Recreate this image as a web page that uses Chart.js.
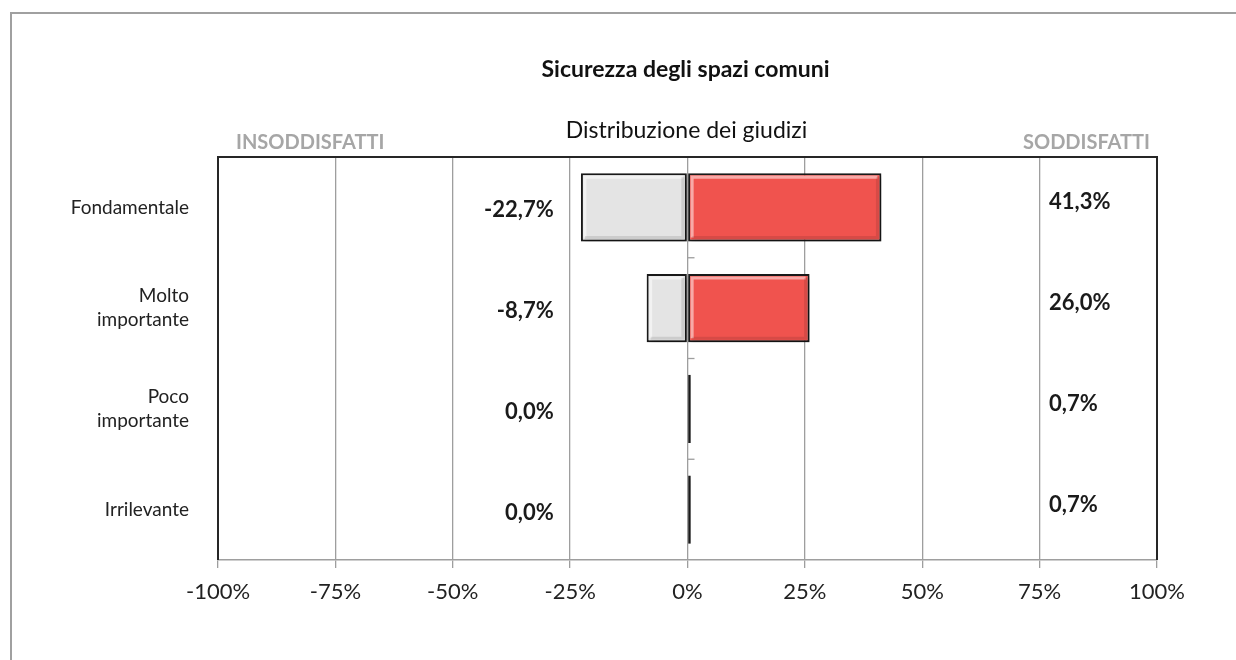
<!DOCTYPE html>
<html>
<head>
<meta charset="utf-8">
<script src="https://cdn.jsdelivr.net/npm/chart.js@4/dist/chart.umd.min.js"></script>
<style>
  html, body { margin: 0; padding: 0; background: #fff; }
  #wrap { width: 1236px; height: 660px; position: relative; }
</style>
</head>
<body>
<div id="wrap"><canvas id="c" width="1236" height="660"></canvas></div>
<script>
// ---- data ----
const chartTitle = 'Sicurezza degli spazi comuni';
const chartSubtitle = 'Distribuzione dei giudizi';
const leftHeader = 'INSODDISFATTI';
const rightHeader = 'SODDISFATTI';
const categories = ['Fondamentale', ['Molto', 'importante'], ['Poco', 'importante'], 'Irrilevante'];
const insoddisfatti = [-22.7, -8.7, 0.0, 0.0];
const soddisfatti = [41.3, 26.0, 0.7, 0.7];
const xTickValues = [-100, -75, -50, -25, 0, 25, 50, 75, 100];

const FONT = 'Lato, "Open Sans", "DejaVu Sans", sans-serif';
const fmt = v => v.toFixed(1).replace('.', ',') + '%';

const decorPlugin = {
  id: 'decor',
  beforeDraw(chart) {
    const ctx = chart.ctx;
    ctx.save();
    ctx.fillStyle = '#fff';
    ctx.fillRect(0, 0, chart.width, chart.height);
    // outer frame
    ctx.strokeStyle = '#a0a0a0';
    ctx.lineWidth = 2;
    ctx.beginPath();
    ctx.moveTo(11, chart.height);
    ctx.lineTo(11, 13);
    ctx.lineTo(chart.width, 13);
    ctx.stroke();
    // titles
    const ca = chart.chartArea;
    const cx = (ca.left + ca.right) / 2;
    ctx.fillStyle = '#111';
    ctx.textAlign = 'center';
    ctx.textBaseline = 'middle';
    ctx.font = 'bold 23px ' + FONT;
    ctx.fillText(chartTitle, cx - 2, 70);
    ctx.font = '23px ' + FONT;
    ctx.fillText(chartSubtitle, cx - 1, 131);
    ctx.fillStyle = '#a6a6a6';
    ctx.font = 'bold 20px ' + FONT;
    ctx.textAlign = 'left';
    ctx.fillText(leftHeader, ca.left + 18, 143);
    ctx.textAlign = 'right';
    ctx.fillText(rightHeader, ca.right - 7, 143);
    ctx.restore();
  },
  beforeDatasetsDraw(chart) {
    const ctx = chart.ctx;
    ctx.save();
    ctx.shadowColor = 'rgba(0,0,0,0.38)';
    ctx.shadowBlur = 5;
    ctx.shadowOffsetX = 2;
    ctx.shadowOffsetY = 3;
  },
  afterDatasetsDraw(chart) {
    const ctx = chart.ctx;
    ctx.restore();
    // bevel highlights
    chart.data.datasets.forEach((ds, di) => {
      const meta = chart.getDatasetMeta(di);
      meta.data.forEach(el => {
        const p = el.getProps(['x', 'y', 'base', 'height'], true);
        const l = Math.min(p.x, p.base), r = Math.max(p.x, p.base);
        const t = p.y - p.height / 2, b = p.y + p.height / 2;
        if (r - l < 12) return;
        const ins = 4;
        ctx.save();
        ctx.lineWidth = 3;
        ctx.strokeStyle = 'rgba(255,255,255,0.5)';
        ctx.beginPath();
        ctx.moveTo(l + ins, b - ins);
        ctx.lineTo(l + ins, t + ins);
        ctx.lineTo(r - ins, t + ins);
        ctx.stroke();
        ctx.strokeStyle = 'rgba(0,0,0,0.10)';
        ctx.beginPath();
        ctx.moveTo(r - ins, t + ins);
        ctx.lineTo(r - ins, b - ins);
        ctx.lineTo(l + ins, b - ins);
        ctx.stroke();
        ctx.restore();
      });
    });
  },
  afterDraw(chart) {
    const ctx = chart.ctx;
    const ca = chart.chartArea;
    const xs = chart.scales.x, ys = chart.scales.y;
    ctx.save();
    // dark frame: top, left, right
    ctx.strokeStyle = '#262626';
    ctx.lineWidth = 2;
    ctx.beginPath();
    ctx.moveTo(ca.left, ca.bottom);
    ctx.lineTo(ca.left, ca.top);
    ctx.lineTo(ca.right, ca.top);
    ctx.lineTo(ca.right, ca.bottom);
    ctx.stroke();
    // tick marks on the zero axis at category boundaries
    const x0 = xs.getPixelForValue(0);
    ctx.strokeStyle = '#9e9e9e';
    ctx.lineWidth = 1.3;
    for (let i = 0; i < categories.length - 1; i++) {
      const yb = (ys.getPixelForValue(i) + ys.getPixelForValue(i + 1)) / 2;
      ctx.beginPath();
      ctx.moveTo(x0, yb);
      ctx.lineTo(x0 + 7, yb);
      ctx.stroke();
    }
    // value labels
    ctx.fillStyle = '#1a1a1a';
    ctx.font = 'bold 22px ' + FONT;
    ctx.textBaseline = 'middle';
    const xl = xs.getPixelForValue(-28.5);
    const xr = xs.getPixelForValue(77);
    categories.forEach((c, i) => {
      const yc = ys.getPixelForValue(i);
      ctx.textAlign = 'right';
      ctx.fillText(fmt(insoddisfatti[i]), xl, yc + 3);
      ctx.textAlign = 'left';
      ctx.fillText(fmt(soddisfatti[i]), xr, yc - 5);
    });
    ctx.restore();
  }
};

new Chart(document.getElementById('c'), {
  type: 'bar',
  data: {
    labels: categories,
    datasets: [
      {
        label: 'Insoddisfatti',
        data: insoddisfatti,
        backgroundColor: '#e4e4e4',
        borderColor: '#1a1a1a',
        borderWidth: 2,
        borderSkipped: false
      },
      {
        label: 'Soddisfatti',
        data: soddisfatti,
        backgroundColor: '#f0534e',
        borderColor: '#1a1a1a',
        borderWidth: 2,
        borderSkipped: false
      }
    ]
  },
  options: {
    indexAxis: 'y',
    responsive: false,
    animation: false,
    devicePixelRatio: 1,
    layout: { padding: { top: 157, right: 79, left: 0, bottom: 0 } },
    plugins: {
      legend: { display: false },
      title: { display: false },
      tooltip: { enabled: false }
    },
    datasets: {
      bar: { categoryPercentage: 1.0, barPercentage: 0.675 }
    },
    scales: {
      x: {
        stacked: true,
        min: -100,
        max: 100,
        z: 1,
        afterBuildTicks: s => { s.ticks = xTickValues.map(v => ({ value: v })); },
        afterFit: s => { s.height = 100; },
        grid: { color: '#9e9e9e', lineWidth: 1.3, tickLength: 8, drawTicks: true },
        border: { display: true, color: '#9e9e9e', width: 1.5 },
        ticks: {
          padding: 11,
          color: '#222',
          font: { family: FONT, size: 22 },
          callback: v => v + '%'
        }
      },
      y: {
        stacked: true,
        afterFit: s => { s.width = 218; },
        grid: { display: false, drawTicks: false },
        border: { display: false },
        ticks: {
          padding: 29,
          color: '#222',
          font: { family: FONT, size: 19, lineHeight: 1.25 }
        }
      }
    }
  },
  plugins: [decorPlugin]
});
</script>
</body>
</html>
